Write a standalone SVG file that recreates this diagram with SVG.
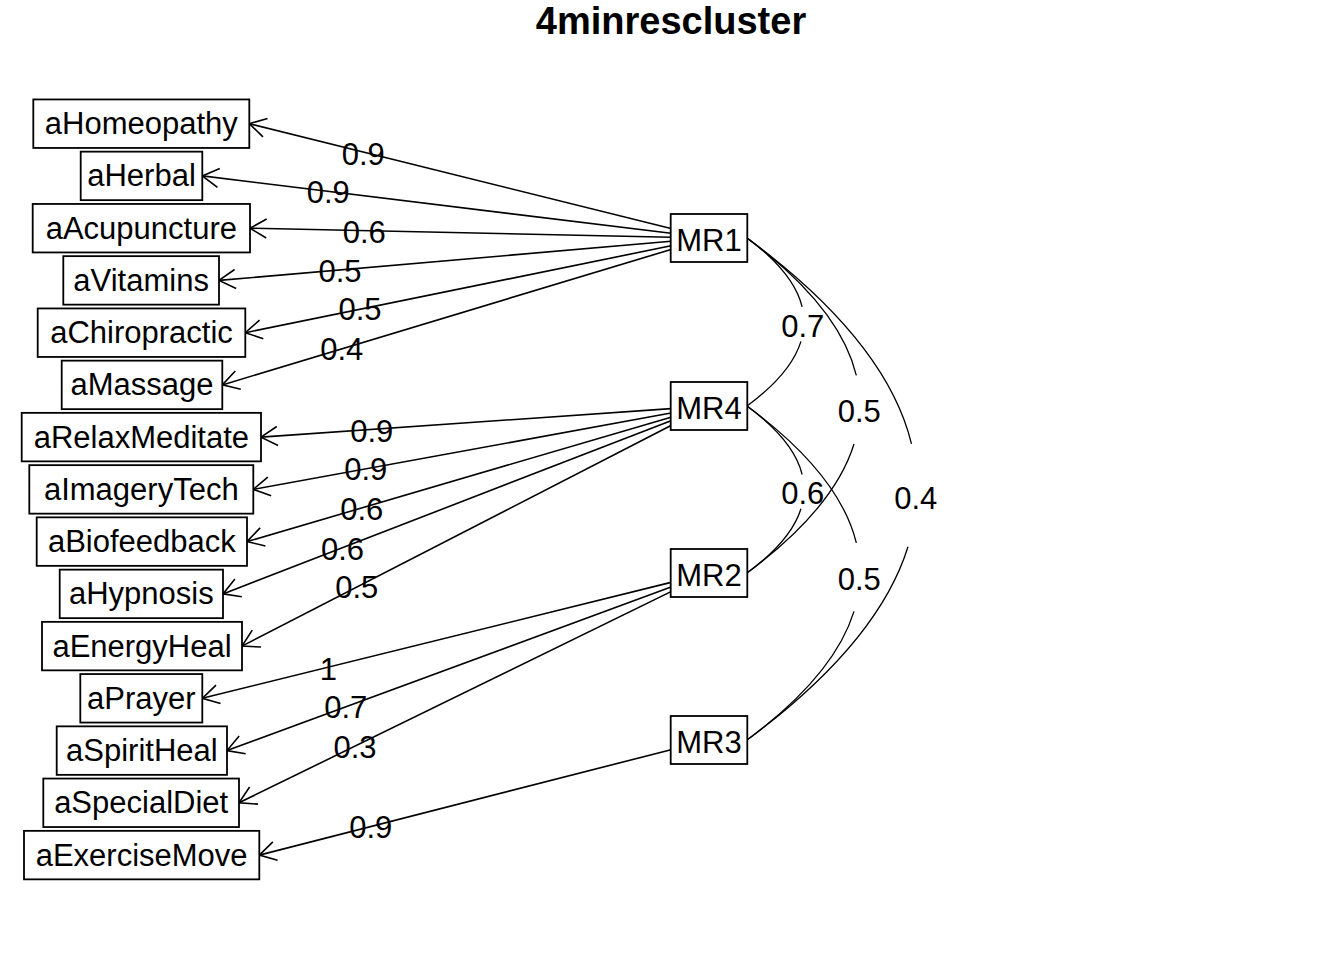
<svg xmlns="http://www.w3.org/2000/svg" width="1344" height="960" viewBox="0 0 1344 960">
<defs>
<style>
.box{fill:#fff;stroke:#000;stroke-width:1.8}
.t{font-family:"Liberation Sans",Arial,sans-serif;font-size:31px;fill:#000;text-anchor:middle}
.title{font-family:"Liberation Sans",Arial,sans-serif;font-size:38px;font-weight:bold;fill:#000;text-anchor:middle}
.ln{stroke:#000;stroke-width:1.6;fill:none;marker-end:url(#ah)}
.cv{stroke:#000;stroke-width:1.3;fill:none}
</style>
<marker id="ah" markerUnits="userSpaceOnUse" markerWidth="40" markerHeight="40" viewBox="-20 -20 40 40" refX="0" refY="0" orient="auto" overflow="visible">
<path d="M -16.45 -9.5 L 0 0 L -16.45 9.5" fill="none" stroke="#000" stroke-width="1.6"/>
</marker>
</defs>
<rect width="1344" height="960" fill="#fff"/>
<text class="title" x="671" y="33.5">4minrescluster</text>

<g id="connectors">
<line class="ln" x1="671" y1="228.55" x2="249.3" y2="123.7"/>
<line class="ln" x1="671" y1="233.3" x2="202.3" y2="175.9"/>
<line class="ln" x1="671" y1="237.2" x2="250" y2="228.2"/>
<line class="ln" x1="671" y1="241.3" x2="219" y2="280.4"/>
<line class="ln" x1="671" y1="245.8" x2="245.3" y2="332.7"/>
<line class="ln" x1="671" y1="249.5" x2="222.3" y2="384.9"/>
<line class="ln" x1="671" y1="408.6" x2="261" y2="437.1"/>
<line class="ln" x1="671" y1="413" x2="253.3" y2="489.4"/>
<line class="ln" x1="671" y1="417.2" x2="247" y2="541.6"/>
<line class="ln" x1="671" y1="420.7" x2="223" y2="593.9"/>
<line class="ln" x1="671" y1="425.5" x2="242" y2="646.1"/>
<line class="ln" x1="671" y1="582.4" x2="202.3" y2="698.3"/>
<line class="ln" x1="671" y1="587" x2="227" y2="750.6"/>
<line class="ln" x1="671" y1="591.6" x2="239" y2="802.8"/>
<line class="ln" x1="671" y1="749.7" x2="259.3" y2="855.1"/>
<text class="t" x="363.3" y="164.9">0.9</text>
<text class="t" x="328.3" y="203.2">0.9</text>
<text class="t" x="364.2" y="243.2">0.6</text>
<text class="t" x="340" y="281.5">0.5</text>
<text class="t" x="360" y="320.2">0.5</text>
<text class="t" x="341.7" y="359.9">0.4</text>
<text class="t" x="371.7" y="441.5">0.9</text>
<text class="t" x="365.8" y="479.9">0.9</text>
<text class="t" x="361.7" y="519.5">0.6</text>
<text class="t" x="342.5" y="559.5">0.6</text>
<text class="t" x="356.7" y="598.2">0.5</text>
<text class="t" x="328.3" y="679.9">1</text>
<text class="t" x="345.8" y="718.2">0.7</text>
<text class="t" x="355" y="758.2">0.3</text>
<text class="t" x="370.8" y="838.2">0.9</text>

<path class="cv" d="M 747 238 Q 793.74 272.44 802.15 306.88 M 800.98 341.32 Q 790.89 373.66 747 406"/>
<path class="cv" d="M 747 238 Q 839.66 306.68 856.34 375.35 M 854.02 444.03 Q 834.01 508.51 747 573"/>
<path class="cv" d="M 747 238 Q 886.4 340.91 911.49 443.82 M 908.01 546.73 Q 877.9 643.37 747 740"/>
<path class="cv" d="M 747 406 Q 793.74 440.24 802.15 474.47 M 800.98 508.71 Q 790.89 540.85 747 573"/>
<path class="cv" d="M 747 406 Q 839.66 474.47 856.34 542.94 M 854.02 611.41 Q 834.01 675.71 747 740"/>
<text class="t" x="802.8" y="336.6">0.7</text>
<text class="t" x="859.3" y="422.3">0.5</text>
<text class="t" x="915.8" y="508.7">0.4</text>
<text class="t" x="802.8" y="503.5">0.6</text>
<text class="t" x="859.2" y="589.9">0.5</text>
</g>

<g id="aHomeopathy"><rect class="box" x="33.3" y="99.45" width="216" height="48.5"/><text class="t" x="141.3" y="134.2">aHomeopathy</text></g>
<g id="aHerbal"><rect class="box" x="80.7" y="151.65" width="121.6" height="48.5"/><text class="t" x="141.5" y="186.4">aHerbal</text></g>
<g id="aAcupuncture"><rect class="box" x="32.7" y="203.95" width="217.3" height="48.5"/><text class="t" x="141.35" y="238.7">aAcupuncture</text></g>
<g id="aVitamins"><rect class="box" x="63.3" y="256.15" width="155.7" height="48.5"/><text class="t" x="141.15" y="290.9">aVitamins</text></g>
<g id="aChiropractic"><rect class="box" x="37.7" y="308.45" width="207.6" height="48.5"/><text class="t" x="141.5" y="343.2">aChiropractic</text></g>
<g id="aMassage"><rect class="box" x="61.7" y="360.65" width="160.6" height="48.5"/><text class="t" x="142" y="395.4">aMassage</text></g>
<g id="aRelaxMeditate"><rect class="box" x="21.7" y="412.85" width="239.3" height="48.5"/><text class="t" x="141.35" y="447.6">aRelaxMeditate</text></g>
<g id="aImageryTech"><rect class="box" x="29.3" y="465.15" width="224" height="48.5"/><text class="t" x="141.3" y="499.9">aImageryTech</text></g>
<g id="aBiofeedback"><rect class="box" x="36.7" y="517.35" width="210.3" height="48.5"/><text class="t" x="141.85" y="552.1">aBiofeedback</text></g>
<g id="aHypnosis"><rect class="box" x="59.7" y="569.65" width="163.3" height="48.5"/><text class="t" x="141.35" y="604.4">aHypnosis</text></g>
<g id="aEnergyHeal"><rect class="box" x="42" y="621.85" width="200" height="48.5"/><text class="t" x="142" y="656.6">aEnergyHeal</text></g>
<g id="aPrayer"><rect class="box" x="80.3" y="674.05" width="122" height="48.5"/><text class="t" x="141.3" y="708.8">aPrayer</text></g>
<g id="aSpiritHeal"><rect class="box" x="56.7" y="726.35" width="170.3" height="48.5"/><text class="t" x="141.85" y="761.1">aSpiritHeal</text></g>
<g id="aSpecialDiet"><rect class="box" x="43.3" y="778.55" width="195.7" height="48.5"/><text class="t" x="141.15" y="813.3">aSpecialDiet</text></g>
<g id="aExerciseMove"><rect class="box" x="24" y="830.85" width="235.3" height="48.5"/><text class="t" x="141.65" y="865.6">aExerciseMove</text></g>

<g id="MR1"><rect class="box" x="670.7" y="214" width="76.6" height="48"/><text class="t" x="709" y="250.5">MR1</text></g>
<g id="MR4"><rect class="box" x="670.7" y="382" width="76.6" height="48"/><text class="t" x="709" y="418.5">MR4</text></g>
<g id="MR2"><rect class="box" x="670.7" y="549" width="76.6" height="48"/><text class="t" x="709" y="585.5">MR2</text></g>
<g id="MR3"><rect class="box" x="670.7" y="716" width="76.6" height="48"/><text class="t" x="709" y="752.5">MR3</text></g>
</svg>
